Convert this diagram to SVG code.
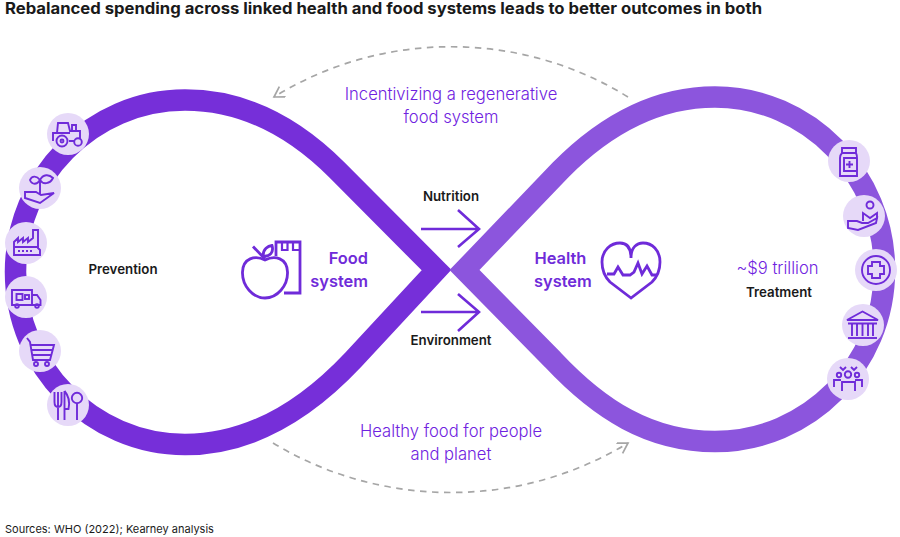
<svg xmlns="http://www.w3.org/2000/svg" width="900" height="537" viewBox="0 0 900 537">
<defs>
<marker id="ahe" markerWidth="14" markerHeight="14" refX="11" refY="6" orient="auto" markerUnits="userSpaceOnUse"><path d="M1,0 L11,6 L1,12" fill="none" stroke="#a6a6a6" stroke-width="1.7"/></marker>
</defs>
<style>
text{font-family:Inter,"Liberation Sans",sans-serif}
.bk{font-size:13.3px;font-weight:600;fill:#1a1a1a;text-anchor:middle}
.pu{font-size:16.6px;font-weight:300;fill:#6f22e0;text-anchor:middle}
.sy{font-size:16.4px;font-weight:600;fill:#6f2bd9}
.bg{fill:#e6d9f8}
.ic{fill:none;stroke:#6f2bd9;stroke-width:1.9;stroke-linejoin:miter}
.ar{fill:none;stroke:#6f2bd9;stroke-width:2.6}
.da{fill:none;stroke:#a6a6a6;stroke-width:1.7;stroke-dasharray:6.500 5.500}
.lp{fill:none;stroke-width:21.500;stroke-linejoin:miter;stroke-miterlimit:4}
</style>
<text x="5" y="14" font-size="15.6" font-weight="700" fill="#1a1a1a" textLength="757" lengthAdjust="spacingAndGlyphs">Rebalanced spending across linked health and food systems leads to better outcomes in both</text>
<g id="connectors">
<path id="loop-left" class="lp" stroke="#762fd9" d="M436.500,270 L337,170 C295,128 245,100 185,100 C92,100 15.500,177 15.500,272 C15.500,367 92,444.500 185,444.500 C250,444.500 305,411 353,360 Z"/>
<path id="loop-right" class="lp" stroke="#8c55dd" d="M464.500,270 L560.500,170 C605,125 655,97 715,97 C808,97 884.500,175 884.500,270 C884.500,365 808,441.500 715,441.500 C650,441.500 600,410 553,360 Z"/>
<path class="da" d="M628,97 C520,30 382,30 274,97" marker-end="url(#ahe)"/>
<path class="da" d="M273,443 C382,509 520,509 628,443" marker-end="url(#ahe)"/>
<path class="ar" d="M421,229 H479 M458,210 L479,229 L458,247"/>
<path class="ar" d="M421,312 H479 M458,294 L479,312 L458,331"/>
</g>
<text x="451" y="200.500" class="bk">Nutrition</text>
<text x="451" y="345" class="bk">Environment</text>
<text x="123" y="274" class="bk">Prevention</text>
<text x="779" y="296.500" class="bk">Treatment</text>
<text x="777.500" y="274" class="pu">~$9 trillion</text>
<text x="451" y="100" class="pu">Incentivizing a regenerative</text>
<text x="451" y="122.500" class="pu">food system</text>
<text x="451" y="437" class="pu">Healthy food for people</text>
<text x="451" y="460" class="pu">and planet</text>
<text x="368" y="264" class="sy" text-anchor="end">Food</text>
<text x="368" y="287" class="sy" text-anchor="end">system</text>
<text x="534.500" y="264" class="sy">Health</text>
<text x="534" y="287" class="sy">system</text>
<text x="5" y="533" font-size="11" fill="#1a1a1a">Sources: WHO (2022); Kearney analysis</text>

<g id="food-icon" fill="none" stroke="#6f2bd9" stroke-width="2.800">
<path d="M265,260 C255,255 243,258 242.500,272 C242,286 253,298 265,298 C277,298 288,286 287.500,272 C287,258 275,255 265,260 Z"/>
<path d="M265,259 L253,246.500 M263,256 C263,249 268,246 272,245.500 C274,252 270,257 263,256 Z"/>
<path d="M276,256 V242 H300 V293 H284"/>
<path d="M282,242 V250 H287.500 V242 M293,242 V250 H300" stroke-width="2.200"/>
</g>
<g id="health-icon" fill="none" stroke="#6f2bd9" stroke-width="2.800">
<path d="M631,298 L610,282 C604,276 602,270 602,262 C602,250 611,243 620,243 C626,243 631,247 631,258 C631,247 637,243 643,243 C652,243 660,250 660,262 C660,270 658,276 652,282 Z"/>
<path d="M607,274 H614 L618,267 L623,275 H630 L634,272 L638,263 L642,274 L647,266 L652,275 H656"/>
</g>

<g id="tractor"><circle class="bg" cx="68" cy="134" r="21"/><path class="ic" d="M57,133 L58,123 H68 L70,131 H80 V139 M72,131 V125 H76 V131 M53,141 V133 H70 M69,141 H74"/><circle class="ic" cx="62" cy="141" r="5.500"/><circle class="ic" cx="62" cy="141" r="1.500"/><circle class="ic" cx="78" cy="142" r="3.800"/></g>
<g id="plant"><circle class="bg" cx="40" cy="188" r="21"/><path class="ic" d="M40,195 V180 M40,180 C37,176 32,175 30,180 C32,185 37,185 40,180 Z M40,180 C43,174 49,174 53,178 C50,184 43,185 40,180 Z M25,192 H36 L41,195 L54,193 L40,203 L25,198 Z"/></g>
<g id="factory"><circle class="bg" cx="26" cy="243" r="21"/><path class="ic" d="M14,255 V242 L18,238 V242 L23,238 V242 L28,238 V242 L33,238 V230 H38 V248 L40,250 V255 Z M14,247 H38"/><path class="ic" stroke-dasharray="2 2" d="M18,251 H32"/></g>
<g id="truck"><circle class="bg" cx="26" cy="297" r="21"/><path class="ic" d="M12,290 H32 V305 H12 Z M32,295 H37 L40.500,300 V305 H32"/><rect class="ic" x="16.500" y="294" width="6" height="6"/><rect class="ic" x="25" y="295" width="4" height="4"/><circle class="ic" cx="17" cy="306" r="1.800"/><circle class="ic" cx="37" cy="306" r="1.800"/></g>
<g id="cart"><circle class="bg" cx="40" cy="351" r="21"/><path class="ic" d="M27,338 L30,342 L33,360 H50 L54,345 H30 M31,350 H53 M32,355 H51.500"/><circle class="ic" cx="36" cy="364" r="2"/><circle class="ic" cx="47" cy="364" r="2"/></g>
<g id="cutlery"><circle class="bg" cx="68" cy="405" r="21"/><path class="ic" d="M54.500,392 V402 C54.500,405 56,407 58,407 C60,407 61.500,405 61.500,402 V392 M58,392 V420 M64.500,391 C68,395 70,402 68.500,409 H64.500 M64.500,391 V420"/><circle class="ic" cx="77" cy="398" r="5.200"/><path class="ic" d="M77,403 V420"/></g>

<g id="bottle"><circle class="bg" cx="849" cy="161" r="21"/><path class="ic" d="M842,148 H856 V153 H842 Z M842,153 C840,155 840,156 840,158 V176 H857 V158 C857,156 857,155 856,153 M857,158 H844 V171 H857"/><path class="ic" stroke-width="1.500" d="M849.500,161 V168 M846,164.500 H853"/></g>
<g id="hand"><circle class="bg" cx="864" cy="216" r="21"/><circle class="ic" cx="870" cy="205" r="3.500"/><path class="ic" d="M863,221 V213 L870,218 L877,213 V219 M848,221 H857 L862,223 H868 L877,218 L876,223 L858,230 L848,228 Z"/></g>
<g id="plus"><circle class="bg" cx="876" cy="270" r="21"/><circle class="ic" cx="876" cy="270" r="14"/><path class="ic" d="M872,262 H880 V266 H884 V274 H880 V278 H872 V274 H868 V266 H872 Z"/></g>
<g id="bank"><circle class="bg" cx="863" cy="325" r="21"/><path class="ic" d="M847,320 L862.500,311.500 L878,320 Z M848,323.500 H877 M852,324 V336 M857,324 V336 M862.500,324 V336 M868,324 V336 M873,324 V336"/><path class="ic" stroke-width="3" d="M848,338 H877"/></g>
<g id="people"><circle class="bg" cx="848" cy="379" r="21"/><circle class="ic" cx="848" cy="374.500" r="3.200"/><circle class="ic" cx="839" cy="375" r="2.200"/><circle class="ic" cx="857" cy="375" r="2.200"/><path class="ic" d="M842,391 V382 H855 V391 M834,387 V380 H841 M862,387 V380 H855 M840,367 L843,370 L846,367 M851,367 L854,370 L857,367" stroke-width="1.700"/></g>
</svg>
